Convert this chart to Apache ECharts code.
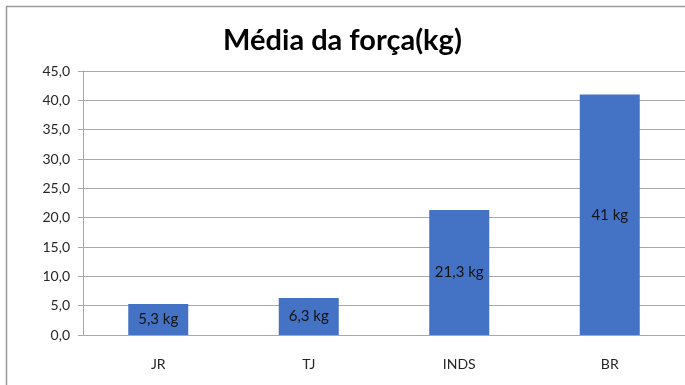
<!DOCTYPE html>
<html>
<head>
<meta charset="utf-8">
<script src="https://cdn.jsdelivr.net/npm/echarts@6/dist/echarts.min.js"></script>
<style>
  html, body { margin: 0; padding: 0; background: #ffffff; }
  #chart { width: 685px; height: 385px; }
</style>
</head>
<body>
<div id="chart"></div>
<script>
// Average force per group, in kg
const categories = ['JR', 'TJ', 'INDS', 'BR'];
const forceValues = [5.3, 6.3, 21.3, 41];
const yTicks = { min: 0, max: 45, interval: 5 };

const fmtComma = v => String(v).replace('.', ',');

const chart = echarts.init(document.getElementById('chart'), null, { renderer: 'canvas' });

chart.setOption({
  backgroundColor: '#ffffff',
  animation: false,
  title: {
    text: 'Média da força(kg)',
    left: 'center',
    top: 21,
    textStyle: {
      fontFamily: 'Lato',
      fontWeight: 'bold',
      fontSize: 29,
      color: '#000000'
    }
  },
  graphic: [{
    type: 'rect',
    shape: { x: 6.5, y: 6.5, width: 700, height: 400 },
    style: { fill: 'none', stroke: '#9a9a9a', lineWidth: 1.5 },
    silent: true,
    z: 0
  }],
  grid: {
    left: 83,
    top: 71,
    width: 604,
    bottom: 50,
    containLabel: false
  },
  xAxis: {
    type: 'category',
    data: categories,
    axisLine: { show: true, lineStyle: { color: '#a8a8a8', width: 1 } },
    axisTick: { show: false },
    axisLabel: {
      margin: 22,
      fontFamily: 'Lato',
      fontSize: 14,
      color: '#262626'
    },
    splitLine: { show: false }
  },
  yAxis: {
    type: 'value',
    min: yTicks.min,
    max: yTicks.max,
    interval: yTicks.interval,
    axisLine: { show: true, lineStyle: { color: '#a8a8a8', width: 1 } },
    axisTick: { show: true, length: 5, lineStyle: { color: '#a8a8a8' } },
    axisLabel: {
      margin: 13,
      fontFamily: 'Lato',
      fontSize: 14,
      color: '#262626',
      formatter: v => v.toFixed(1).replace('.', ',')
    },
    splitLine: { show: true, lineStyle: { color: '#a8a8a8', width: 1 } }
  },
  series: [{
    type: 'bar',
    data: forceValues,
    barWidth: 60,
    itemStyle: { color: '#4472C4' },
    label: {
      show: true,
      position: 'inside',
      fontFamily: 'Lato',
      fontSize: 15,
      color: '#141414',
      formatter: p => fmtComma(p.value) + ' kg'
    }
  }]
});
</script>
</body>
</html>
